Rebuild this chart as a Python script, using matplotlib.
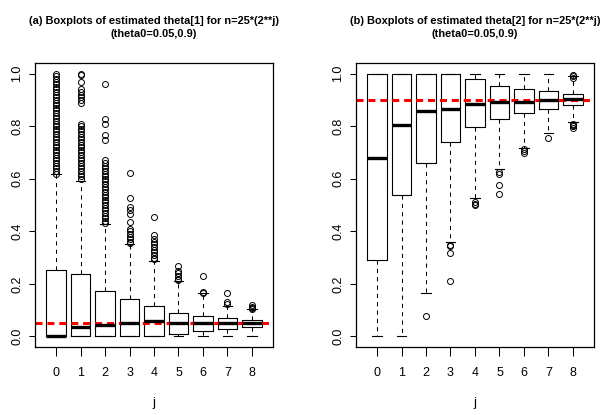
import matplotlib
matplotlib.use("Agg")
import matplotlib.pyplot as plt

## 字體
plt.rcParams['font.family'] = ['Liberation Sans Narrow', 'Liberation Sans', 'DejaVu Sans']

## 數據: j = 0..8
j_values = [0, 1, 2, 3, 4, 5, 6, 7, 8]
true_theta = [0.05, 0.9]

# theta[1]
t1_whislo = [0, 0, 0, 0, 0, 0, 0, 0, 0]
t1_q1 = [0, 0, 0, 0, 0, 0.009, 0.022, 0.029, 0.037]
t1_med = [0.003, 0.035, 0.043, 0.053, 0.060, 0.050, 0.051, 0.050, 0.050]
t1_q3 = [0.251, 0.239, 0.172, 0.143, 0.117, 0.091, 0.079, 0.069, 0.063]
t1_whishi = [0.619, 0.591, 0.429, 0.350, 0.289, 0.210, 0.165, 0.117, 0.103]
t1_fliers = [
    [0.62, 0.63, 0.64, 0.65, 0.66, 0.67, 0.68, 0.69, 0.70, 0.71, 0.72, 0.73, 0.74,
     0.75, 0.76, 0.77, 0.78, 0.79, 0.80, 0.81, 0.82, 0.83, 0.84, 0.85, 0.86, 0.87,
     0.88, 0.89, 0.90, 0.91, 0.92, 0.93, 0.94, 0.95, 0.96, 0.97, 0.98, 0.99, 1.0],
    [0.60, 0.61, 0.62, 0.63, 0.64, 0.65, 0.66, 0.67, 0.68, 0.69, 0.70, 0.71, 0.72,
     0.73, 0.74, 0.75, 0.76, 0.77, 0.78, 0.79, 0.80, 0.81, 0.89, 0.90, 0.91, 0.92,
     0.93, 0.94, 0.968, 0.995, 1.0],
    [0.43, 0.44, 0.45, 0.46, 0.47, 0.48, 0.49, 0.50, 0.51, 0.52, 0.53, 0.54, 0.55,
     0.56, 0.57, 0.58, 0.59, 0.60, 0.61, 0.62, 0.63, 0.64, 0.65, 0.66, 0.67, 0.746,
     0.765, 0.81, 0.829, 0.962],
    [0.355, 0.36, 0.37, 0.38, 0.39, 0.40, 0.41, 0.435, 0.467, 0.48, 0.492, 0.527, 0.622],
    [0.295, 0.30, 0.31, 0.32, 0.33, 0.34, 0.35, 0.36, 0.37, 0.385, 0.454],
    [0.215, 0.22, 0.23, 0.24, 0.25, 0.27],
    [0.165, 0.168, 0.231],
    [0.125, 0.13, 0.164],
    [0.105, 0.108, 0.113, 0.118],
]

# theta[2]
t2_whislo = [0, 0, 0.167, 0.359, 0.527, 0.636, 0.717, 0.775, 0.815]
t2_q1 = [0.292, 0.539, 0.660, 0.738, 0.797, 0.826, 0.851, 0.867, 0.879]
t2_med = [0.679, 0.803, 0.858, 0.867, 0.884, 0.892, 0.892, 0.898, 0.902]
t2_q3 = [1.0, 1.0, 1.0, 1.0, 0.981, 0.954, 0.940, 0.933, 0.924]
t2_whishi = [1.0, 1.0, 1.0, 1.0, 1.0, 1.0, 1.0, 1.0, 0.991]
t2_fliers = [
    [],
    [],
    [0.077],
    [0.212, 0.317, 0.343, 0.349],
    [0.50, 0.505, 0.51],
    [0.541, 0.575, 0.617, 0.624],
    [0.698, 0.705, 0.712],
    [0.755],
    [0.795, 0.80, 0.805, 0.81, 0.985, 0.99, 0.995],
]

titles = ["(a) Boxplots of estimated theta[1] for n=25*(2**j)\n(theta0=0.05,0.9)",
          "(b) Boxplots of estimated theta[2] for n=25*(2**j)\n(theta0=0.05,0.9)"]


def make_stats(whislo, q1, med, q3, whishi, fliers):
    stats = []
    for i in range(len(j_values)):
        stats.append(dict(whislo=whislo[i], q1=q1[i], med=med[i], q3=q3[i],
                          whishi=whishi[i], fliers=fliers[i]))
    return stats


fig = plt.figure(figsize=(6.07, 4.15), dpi=100)
ax1 = fig.add_axes([0.0577, 0.1639, 0.392, 0.684])
ax2 = fig.add_axes([0.5865, 0.1639, 0.392, 0.684])

all_stats = [make_stats(t1_whislo, t1_q1, t1_med, t1_q3, t1_whishi, t1_fliers),
             make_stats(t2_whislo, t2_q1, t2_med, t2_q3, t2_whishi, t2_fliers)]

for ax, stats, title, truth in zip([ax1, ax2], all_stats, titles, true_theta):
    ax.bxp(stats, positions=j_values, widths=0.8, capwidths=0.4,
           boxprops=dict(color='black', linewidth=0.8),
           whiskerprops=dict(color='black', linewidth=0.75, linestyle=(0, (4, 4))),
           capprops=dict(color='black', linewidth=0.8),
           medianprops=dict(color='black', linewidth=2.4, solid_capstyle='butt'),
           flierprops=dict(marker='o', markersize=4.3, markerfacecolor='none',
                           markeredgecolor='black', markeredgewidth=0.7))
    ax.axhline(truth, color='red', linewidth=2.2, dashes=(2.3, 1.6))
    ax.set_xlim(-0.86, 8.86)
    ax.set_ylim(-0.04, 1.04)
    ax.set_xticks(j_values)
    ax.set_xticklabels([str(v) for v in j_values])
    ax.set_yticks([0, 0.2, 0.4, 0.6, 0.8, 1.0])
    ax.set_yticklabels(["0.0", "0.2", "0.4", "0.6", "0.8", "1.0"], rotation=90, va='center')
    ax.tick_params(width=0.75, labelsize=9)
    ax.tick_params(axis='x', length=6.5, pad=8)
    ax.tick_params(axis='y', length=4.3, pad=4)
    ax.set_xlabel("j", fontsize=9.5, labelpad=13)
    ax.set_title(title, fontsize=7.9, fontweight='bold', linespacing=1.3, pad=19)
    for sp in ax.spines.values():
        sp.set_linewidth(0.9)

plt.savefig("out.png", dpi=100)
